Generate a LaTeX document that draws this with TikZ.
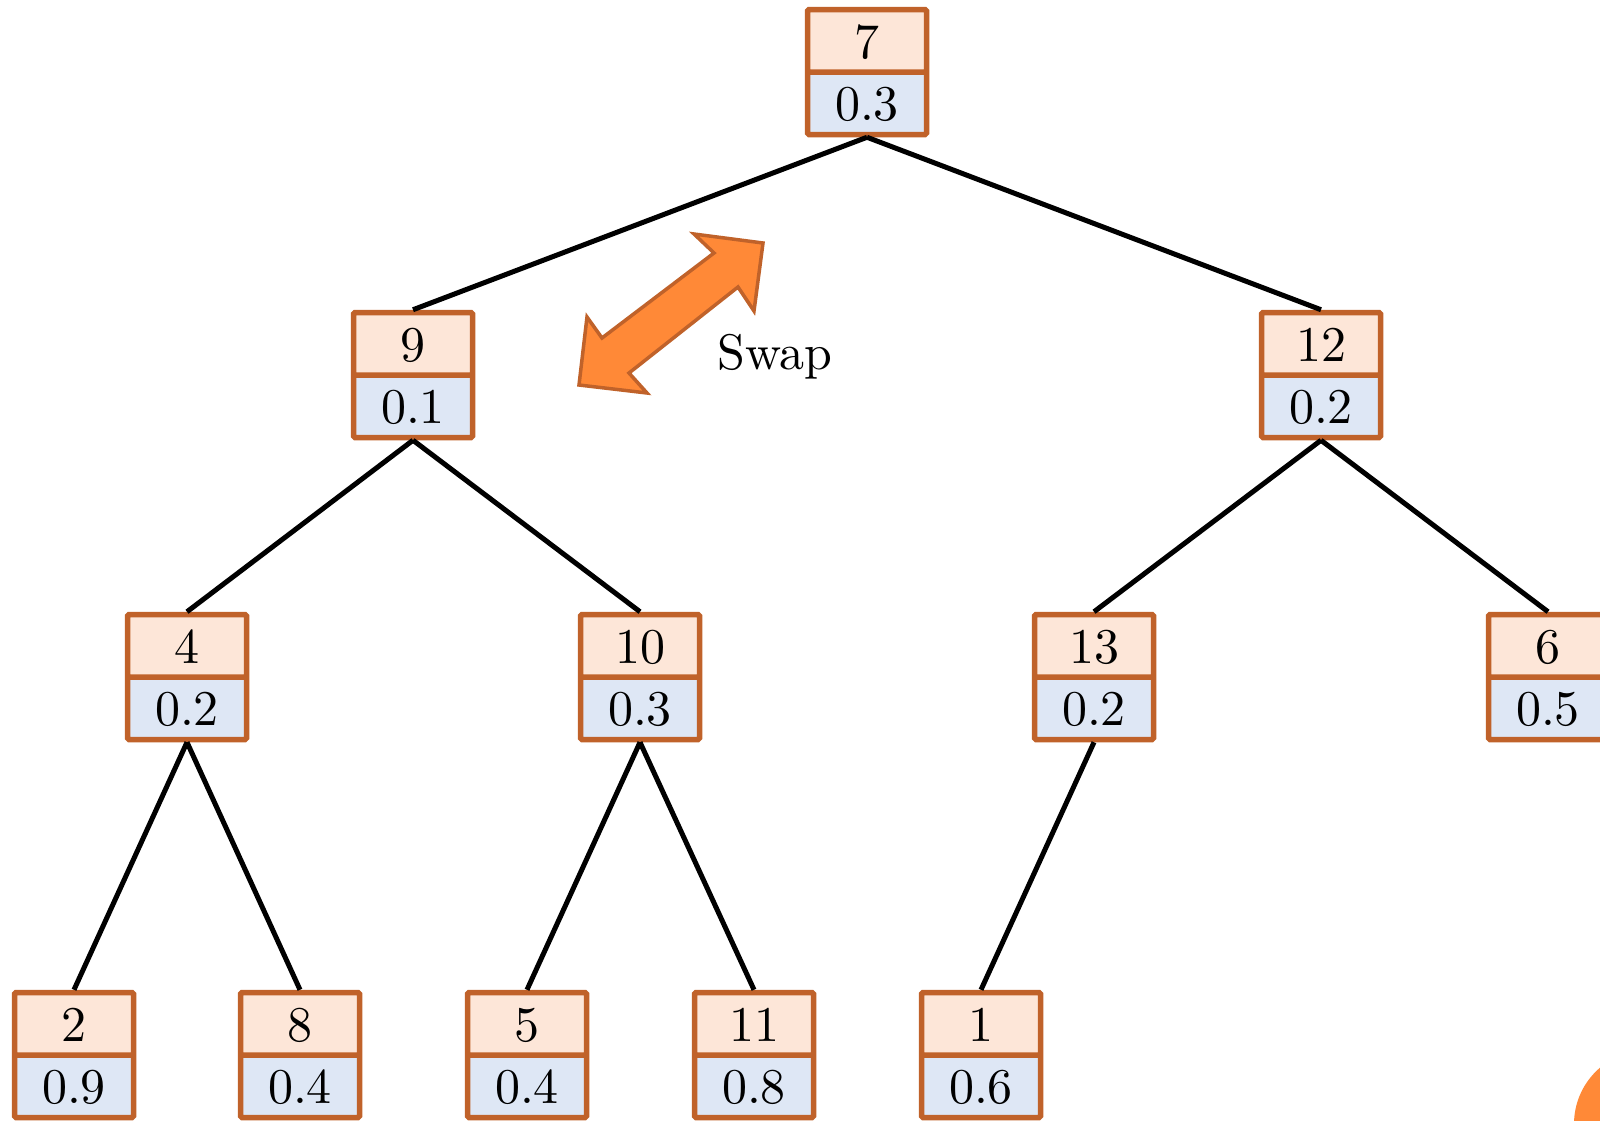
\documentclass[tikz,border=0pt]{standalone}
\usepackage{graphicx}
\usetikzlibrary{shapes.multipart}
\definecolor{peach}{HTML}{FDE6D8}
\definecolor{paleblue}{HTML}{DEE7F5}
\definecolor{rim}{HTML}{C0622A}
\definecolor{swaporange}{HTML}{FF8937}
\newcommand\tntext[1]{\vrule height 46pt depth 11pt width 0pt\scalebox{5}{#1}}
\begin{document}
\begin{tikzpicture}[x=1pt,y=-1pt,
  tn/.style={rectangle split, rectangle split parts=2,
    rectangle split part fill={peach,paleblue},
    draw=rim, line width=5.5pt, rounded corners=1.5pt,
    minimum width=119pt, text width=119pt, align=center,
    inner xsep=0pt, inner ysep=0pt,
    font=\fontsize{10}{12}\selectfont},
  edge/.style={line width=5pt, black}]
\useasboundingbox (0,0) rectangle (1600,1120);
\clip (0,0) rectangle (1600,1120);
\fill[swaporange] (1648,1124) circle (74);
% nodes
\node[tn] (n7)  at (867,72) {\tntext{7}\nodepart{two}\tntext{0.3}};
\node[tn] (n9)  at (413,375) {\tntext{9}\nodepart{two}\tntext{0.1}};
\node[tn] (n12) at (1321,375) {\tntext{12}\nodepart{two}\tntext{0.2}};
\node[tn] (n4)  at (187,677) {\tntext{4}\nodepart{two}\tntext{0.2}};
\node[tn] (n10) at (640,677) {\tntext{10}\nodepart{two}\tntext{0.3}};
\node[tn] (n13) at (1094,677) {\tntext{13}\nodepart{two}\tntext{0.2}};
\node[tn] (n6)  at (1548,677) {\tntext{6}\nodepart{two}\tntext{0.5}};
\node[tn] (n2)  at (74,1055) {\tntext{2}\nodepart{two}\tntext{0.9}};
\node[tn] (n8)  at (300,1055) {\tntext{8}\nodepart{two}\tntext{0.4}};
\node[tn] (n5)  at (527,1055) {\tntext{5}\nodepart{two}\tntext{0.4}};
\node[tn] (n11) at (754,1055) {\tntext{11}\nodepart{two}\tntext{0.8}};
\node[tn] (n1)  at (981,1055) {\tntext{1}\nodepart{two}\tntext{0.6}};
% connectors
\draw[edge] (n7.south) -- (n9.north);
\draw[edge] (n7.south) -- (n12.north);
\draw[edge] (n9.south) -- (n4.north);
\draw[edge] (n9.south) -- (n10.north);
\draw[edge] (n12.south) -- (n13.north);
\draw[edge] (n12.south) -- (n6.north);
\draw[edge] (n4.south) -- (n2.north);
\draw[edge] (n4.south) -- (n8.north);
\draw[edge] (n10.south) -- (n5.north);
\draw[edge] (n10.south) -- (n11.north);
\draw[edge] (n13.south) -- (n1.north);
% swap arrow
\draw[fill=swaporange, draw=rim, line width=3.5pt, line join=miter]
  (763,243) -- (754,311) -- (738,287) -- (629,373) -- (647,393) -- (579,385)
  -- (587,317) -- (602,338) -- (714,253) -- (694,234) -- cycle;
\node[font=\fontsize{10}{12}\selectfont, inner sep=0pt, anchor=base west] (swap) at (717,369) {\scalebox{5}{Swap}};
\end{tikzpicture}
\end{document}
